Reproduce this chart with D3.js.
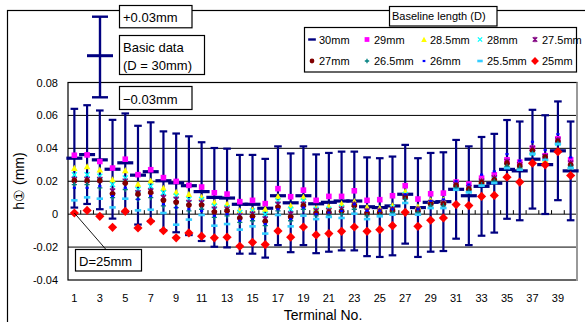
<!DOCTYPE html>
<html>
<head>
<meta charset="utf-8">
<script src="https://cdn.jsdelivr.net/npm/d3@7"></script>
<style>
  html, body { margin: 0; padding: 0; background: #fff; }
  svg { display: block; }
  text { font-family: "Liberation Sans", Arial, sans-serif; fill: #000; }
</style>
</head>
<body>
<svg id="chart" width="585" height="322"></svg>
<script>
// Terminal numbers on the x axis
const terminals = [1,2,3,4,5,6,7,8,9,10,11,12,13,14,15,16,17,18,19,20,
                   21,22,23,24,25,26,27,28,29,30,31,32,33,34,35,36,37,38,39,40];
const xTickLabels = [1,3,5,7,9,11,13,15,17,19,21,23,25,27,29,31,33,35,37,39];
const yTickValues = [0.08, 0.06, 0.04, 0.02, 0, -0.02, -0.04];
const yTickLabels = ["0.08", "0.06", "0.04", "0.02", "0", "-0.02", "-0.04"];

// Baseline lengths (legend order)
const seriesNames = ["30mm","29mm","28.5mm","28mm","27.5mm","27mm","26.5mm","26mm","25.5mm","25mm"];

// h1 (mm) per terminal for each baseline length
const d30  = [0.0340,0.0362,0.0330,0.0273,0.0312,0.0237,0.0258,0.0203,0.0190,0.0173,0.0137,0.0102,0.0098,0.0060,0.0060,0.0036,0.0112,0.0069,0.0112,0.0063,
              0.0072,0.0080,0.0080,0.0045,0.0040,0.0050,0.0121,0.0040,0.0072,0.0076,0.0151,0.0112,0.0169,0.0188,0.0272,0.0263,0.0334,0.0301,0.0385,0.0263];
const d29  = [0.0358,0.0360,0.0320,0.0280,0.0334,0.0240,0.0270,0.0222,0.0199,0.0175,0.0165,0.0130,0.0122,0.0076,0.0084,0.0064,0.0155,0.0106,0.0146,0.0084,
              0.0108,0.0108,0.0142,0.0084,0.0088,0.0112,0.0173,0.0092,0.0124,0.0128,0.0195,0.0183,0.0219,0.0239,0.0330,0.0316,0.0401,0.0355,0.0458,0.0330];
const d285 = [0.0280,0.0290,0.0270,0.0210,0.0266,0.0183,0.0203,0.0159,0.0134,0.0122,0.0104,0.0072,0.0062,0.0023,0.0027,0.0031,0.0108,0.0052,0.0104,0.0037,
              0.0047,0.0064,0.0078,0.0043,0.0037,0.0052,0.0138,0.0047,0.0084,0.0088,0.0185,0.0165,0.0203,0.0219,0.0300,0.0290,0.0381,0.0330,0.0442,0.0290];
const d28  = [0.0240,0.0240,0.0230,0.0180,0.0220,0.0150,0.0170,0.0130,0.0110,0.0090,0.0090,0.0050,0.0040,0.0010,0.0020,0.0000,0.0080,0.0030,0.0080,0.0030,
              0.0030,0.0040,0.0060,0.0020,0.0020,0.0040,0.0120,0.0030,0.0070,0.0070,0.0170,0.0150,0.0190,0.0210,0.0290,0.0280,0.0370,0.0340,0.0430,0.0290];
const d275 = [0.0210,0.0210,0.0210,0.0140,0.0200,0.0130,0.0140,0.0100,0.0090,0.0070,0.0070,0.0030,0.0030,-0.0010,0.0000,-0.0030,0.0060,0.0000,0.0060,0.0020,
              0.0020,0.0030,0.0060,0.0020,0.0020,0.0030,0.0110,0.0030,0.0070,0.0070,0.0180,0.0160,0.0200,0.0220,0.0320,0.0300,0.0400,0.0350,0.0450,0.0310];
const d27  = [0.0205,0.0203,0.0205,0.0124,0.0189,0.0122,0.0132,0.0084,0.0072,0.0056,0.0056,0.0013,0.0021,-0.0023,-0.0013,-0.0043,0.0043,-0.0017,0.0052,0.0007,
              0.0011,0.0017,0.0052,0.0007,0.0011,0.0023,0.0104,0.0021,0.0062,0.0062,0.0175,0.0153,0.0193,0.0209,0.0310,0.0294,0.0387,0.0347,0.0442,0.0300];
const d265 = [0.0180,0.0180,0.0160,0.0100,0.0150,0.0090,0.0100,0.0050,0.0040,0.0020,0.0030,-0.0020,-0.0010,-0.0050,-0.0040,-0.0070,0.0020,-0.0040,0.0030,-0.0010,
              -0.0005,0.0000,0.0030,-0.0010,-0.0005,0.0010,0.0090,0.0010,0.0050,0.0050,0.0160,0.0140,0.0180,0.0200,0.0290,0.0280,0.0370,0.0330,0.0430,0.0290];
const d26  = [0.0160,0.0160,0.0170,0.0110,0.0160,0.0090,0.0110,0.0060,0.0040,0.0030,0.0020,-0.0010,0.0000,-0.0040,-0.0030,-0.0060,0.0030,-0.0030,0.0040,0.0000,
              0.0010,0.0020,0.0060,0.0020,0.0020,0.0030,0.0120,0.0030,0.0080,0.0090,0.0200,0.0180,0.0240,0.0260,0.0365,0.0325,0.0440,0.0390,0.0486,0.0345];
const d255 = [0.0084,0.0102,0.0094,0.0041,0.0094,0.0023,0.0027,0.0007,-0.0064,-0.0033,-0.0005,-0.0070,-0.0060,-0.0094,-0.0074,-0.0118,-0.0005,-0.0074,-0.0009,-0.0030,
              -0.0017,-0.0023,0.0003,-0.0030,-0.0013,-0.0003,0.0068,-0.0003,0.0037,0.0037,0.0148,0.0132,0.0173,0.0189,0.0280,0.0270,0.0367,0.0330,0.0427,0.0280];
const d25  = [0.0007,0.0023,-0.0013,-0.0080,0.0017,-0.0084,-0.0043,-0.0100,-0.0144,-0.0114,-0.0134,-0.0144,-0.0140,-0.0195,-0.0171,-0.0185,-0.0102,-0.0140,-0.0078,-0.0126,
              -0.0118,-0.0104,-0.0078,-0.0104,-0.0094,-0.0070,0.0011,-0.0074,-0.0037,-0.0023,0.0058,0.0052,0.0108,0.0114,0.0225,0.0195,0.0310,0.0300,0.0380,0.0235];

// Error bar half width for the basic data (D = 30mm)
const errorHalf = 0.03;

const seriesValues = [d30, d29, d285, d28, d275, d27, d265, d26, d255, d25];
const markerStyles = [
  { kind: "bar",      color: "#000080", w: 8,   h: 1.6 },
  { kind: "square",   color: "#ff00ff", s: 2.8 },
  { kind: "triangle", color: "#ffff00", s: 3.3 },
  { kind: "cross",    color: "#00ffff", s: 2.5 },
  { kind: "star",     color: "#800080", s: 2.6 },
  { kind: "circle",   color: "#800000", s: 2.8 },
  { kind: "plus",     color: "#008080", s: 2.6 },
  { kind: "bar",      color: "#0000ff", w: 1.6, h: 1.1 },
  { kind: "bar",      color: "#33ccff", w: 3.2, h: 1.3 },
  { kind: "diamond",  color: "#ff0000", s: 4.6 }
];
const series = seriesNames.map((name, i) => ({ name, values: seriesValues[i], style: markerStyles[i] }));

const svg = d3.select("#chart");
const plot = { left: 68, right: 577, top: 82.5, bottom: 280 };

const x = d3.scaleBand().domain(terminals).range([plot.left, plot.right]);
const y = d3.scaleLinear().domain([-0.04, 0.08]).range([plot.bottom, plot.top]);
const cx = t => x(t) + x.bandwidth() / 2;

function markerPath(st, scale = 1) {
  const s = (st.s || 0) * scale;
  switch (st.kind) {
    case "square":   return `M${-s},${-s}h${2*s}v${2*s}h${-2*s}Z`;
    case "triangle": return `M0,${-s}L${s},${s*0.85}L${-s},${s*0.85}Z`;
    case "diamond":  return `M0,${-s}L${s},0L0,${s}L${-s},0Z`;
    case "cross":    return `M${-s},${-s}L${s},${s}M${-s},${s}L${s},${-s}`;
    case "star":     return `M${-s},${-s}L${s},${s}M${-s},${s}L${s},${-s}M0,${-s*1.2}L0,${s*1.2}`;
    case "plus":     return `M${-s},0L${s},0M0,${-s}L0,${s}`;
    case "circle": { const p = d3.path(); p.arc(0, 0, s, 0, 2 * Math.PI); return p.toString(); }
    case "bar": {
      const w = st.w * scale, h = st.h;
      return `M${-w},${-h}h${2*w}v${2*h}h${-2*w}Z`;
    }
  }
}
const isStroke = st => ["cross", "star", "plus"].includes(st.kind);

function drawMarker(g, st, px, py, scale = 1) {
  const p = g.append("path").attr("d", markerPath(st, scale)).attr("transform", `translate(${px},${py})`);
  if (isStroke(st)) p.attr("fill", "none").attr("stroke", st.color).attr("stroke-width", 1.3);
  else p.attr("fill", st.color);
}

// Outer chart frame
svg.append("rect").attr("x", 7.5).attr("y", 10.5).attr("width", 700).attr("height", 400)
  .attr("fill", "#fff").attr("stroke", "#000").attr("stroke-width", 1.2);

// Horizontal gridlines
svg.append("g").selectAll("line")
  .data(yTickValues.filter(v => v !== 0.08 && v !== -0.04))
  .join("line")
  .attr("x1", plot.left).attr("x2", plot.right)
  .attr("y1", d => y(d)).attr("y2", d => y(d))
  .attr("stroke", "#000").attr("stroke-width", 1);

// Plot frame
svg.append("rect").attr("x", plot.left).attr("y", plot.top)
  .attr("width", plot.right - plot.left).attr("height", plot.bottom - plot.top)
  .attr("fill", "none").attr("stroke", "#000").attr("stroke-width", 1.2);
svg.append("line").attr("x1", plot.right).attr("x2", plot.right)
  .attr("y1", plot.top).attr("y2", plot.bottom + 1)
  .attr("stroke", "#999").attr("stroke-width", 2);

// Category tick marks on the zero line
svg.append("g").selectAll("line")
  .data(terminals.slice(1))
  .join("line")
  .attr("x1", d => x(d)).attr("x2", d => x(d))
  .attr("y1", y(0) - 4).attr("y2", y(0))
  .attr("stroke", "#000").attr("stroke-width", 1);

// Y axis labels
const yAxis = d3.axisLeft(y).tickValues(yTickValues).tickSize(0).tickPadding(10)
  .tickFormat((d, i) => yTickLabels[i]);
svg.append("g").attr("transform", `translate(${plot.left},0)`).call(yAxis)
  .call(g => g.select(".domain").remove())
  .call(g => g.selectAll("text").attr("font-size", 11).attr("font-family", "Liberation Sans, Arial, sans-serif").attr("fill", "#000"));

// X axis labels (odd terminals)
const xAxis = d3.axisBottom(x).tickValues(xTickLabels).tickSize(0).tickPadding(14);
svg.append("g").attr("transform", `translate(0,${plot.bottom})`).call(xAxis)
  .call(g => g.select(".domain").remove())
  .call(g => g.selectAll("text").attr("font-size", 11).attr("font-family", "Liberation Sans, Arial, sans-serif").attr("fill", "#000"));

// Axis titles
svg.append("text").attr("x", 323).attr("y", 319.5).attr("text-anchor", "middle")
  .attr("font-size", 14).text("Terminal No.");
svg.append("text").attr("transform", "translate(24,181) rotate(-90)").attr("text-anchor", "middle")
  .attr("font-size", 14).text("h① (mm)");

// Error bars of the basic data
const eb = svg.append("g").attr("stroke", "#000080").attr("stroke-width", 2.2);
terminals.forEach((t, i) => {
  const v = d30[i];
  eb.append("line").attr("x1", cx(t)).attr("x2", cx(t)).attr("y1", y(v - errorHalf)).attr("y2", y(v + errorHalf));
  [v - errorHalf, v + errorHalf].forEach(e => {
    eb.append("line").attr("x1", cx(t) - 3.8).attr("x2", cx(t) + 3.8).attr("y1", y(e)).attr("y2", y(e));
  });
});

// Data markers, one layer per baseline length
series.forEach(s => {
  const g = svg.append("g");
  terminals.forEach((t, i) => drawMarker(g, s.style, cx(t), y(s.values[i])));
});

// Leader line to the D=25mm label
svg.append("line").attr("x1", cx(terminals[0])).attr("y1", y(d25[0]))
  .attr("x2", 106).attr("y2", 249.5).attr("stroke", "#000").attr("stroke-width", 0.9);

function labelBox(bx, by, bw, bh, lines, size) {
  svg.append("rect").attr("x", bx + 0.5).attr("y", by + 0.5).attr("width", bw).attr("height", bh)
    .attr("fill", "#fff").attr("stroke", "#000").attr("stroke-width", 1.2);
  lines.forEach(l => svg.append("text").attr("x", l.x).attr("y", l.y).attr("font-size", size).text(l.t));
}
labelBox(75, 249, 66, 21.5, [{ x: 79, y: 265.5, t: "D=25mm" }], 13);

// Error bar key for the basic data
const key = svg.append("g").attr("stroke", "#000080");
key.append("line").attr("x1", 100).attr("x2", 100).attr("y1", 16.7).attr("y2", 97.3).attr("stroke-width", 2.4);
key.append("line").attr("x1", 92).attr("x2", 108).attr("y1", 16.7).attr("y2", 16.7).attr("stroke-width", 2.4);
key.append("line").attr("x1", 92).attr("x2", 108).attr("y1", 97.3).attr("y2", 97.3).attr("stroke-width", 2.4);
key.append("line").attr("x1", 87).attr("x2", 113).attr("y1", 55.7).attr("y2", 55.7).attr("stroke-width", 3);

labelBox(119, 5, 72.5, 22.3, [{ x: 123, y: 21.5, t: "+0.03mm" }], 13);
labelBox(119, 35, 85, 39, [{ x: 123, y: 52, t: "Basic data" }, { x: 123, y: 70, t: "(D = 30mm)" }], 13);
labelBox(119, 86, 72.5, 23, [{ x: 123, y: 103.5, t: "\u22120.03mm" }], 13);

// Legend
svg.append("rect").attr("x", 304.5).attr("y", 27.5).attr("width", 272).attr("height", 44.5)
  .attr("fill", "#fff").attr("stroke", "#000").attr("stroke-width", 1.2);
svg.append("rect").attr("x", 389.5).attr("y", 6.5).attr("width", 107.5).attr("height", 19.5)
  .attr("fill", "#fff").attr("stroke", "#000").attr("stroke-width", 1.2);
svg.append("text").attr("x", 392).attr("y", 19.5).attr("font-size", 11).text("Baseline length (D)");

const legMarkX = [312, 367, 424, 480, 535];
const legTextX = [319, 374, 430, 487, 542];
const legRowY = [39.5, 61];
const leg = svg.append("g");
series.forEach((s, i) => {
  const col = i % 5, row = Math.floor(i / 5);
  const st = s.style.kind === "bar" && i === 0 ? { ...s.style, w: 4.5, h: 1.2 } : s.style;
  drawMarker(leg, st, legMarkX[col], legRowY[row], 0.85);
  leg.append("text").attr("x", legTextX[col]).attr("y", legRowY[row] + 4).attr("font-size", 11).text(s.name);
});
</script>
</body>
</html>
